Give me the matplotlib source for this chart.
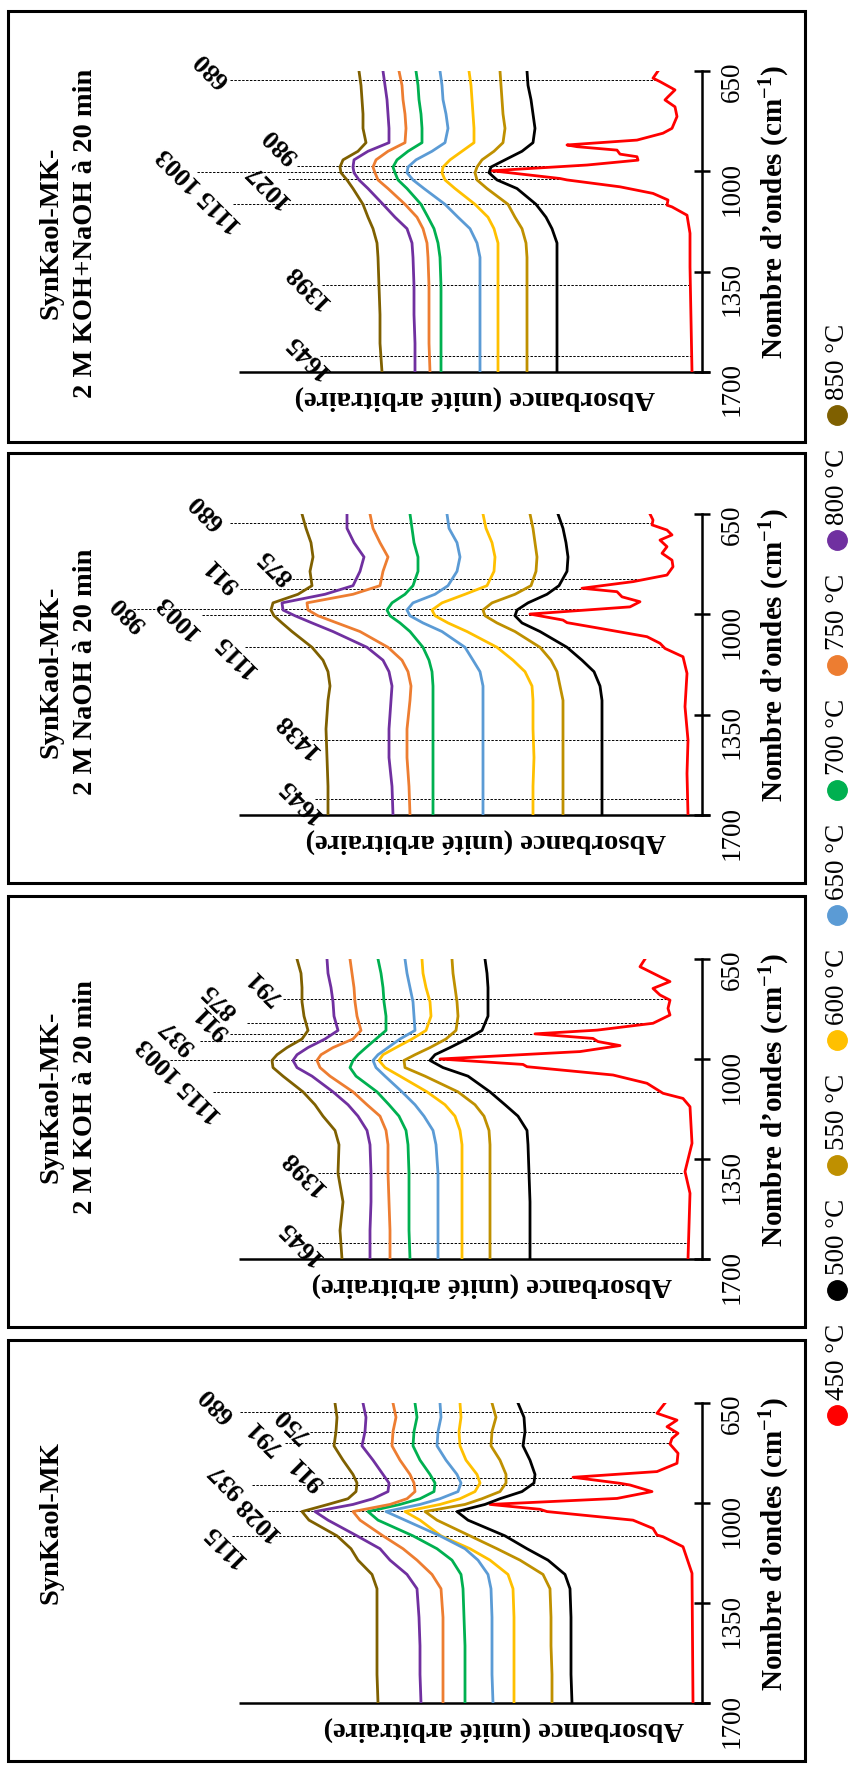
import numpy as np
import matplotlib.pyplot as plt
from matplotlib.patches import Rectangle

plt.rcParams['font.family'] = ['Liberation Serif', 'DejaVu Serif']
plt.rcParams['mathtext.fontset'] = 'custom'
plt.rcParams['mathtext.rm'] = 'Liberation Serif:bold'
plt.rcParams['mathtext.bf'] = 'Liberation Serif:bold'
plt.rcParams['mathtext.default'] = 'rm'

# ---------------- data ----------------
temps = ['450 °C', '500 °C', '550 °C', '600 °C', '650 °C', '700 °C', '750 °C', '800 °C', '850 °C']
colors = ['#FF0000', '#000000', '#BF9000', '#FFC000', '#5B9BD5', '#00B050', '#ED7D31', '#7030A0', '#7F6000']

# common wavenumber grid (cm-1) for the 500-850 °C spectra
wn = [650, 700, 750, 800, 850, 900, 930, 960, 985, 1005, 1030, 1060, 1115, 1160, 1200,
      1250, 1300, 1400, 1500, 1600, 1700]

# SynKaol-MK-2 M KOH+NaOH (absorbance, arbitrary units, stacked)
kn_500 = [175, 174, 171, 169, 167, 169, 180, 197, 211, 213, 205, 185, 166, 156, 150, 145, 145, 145, 145, 145, 145]
kn_550 = [202, 201, 200, 199, 197, 199, 208, 220, 225, 227, 225, 215, 194, 187, 180, 176, 175, 175, 175, 175, 175]
kn_600 = [233, 231, 230, 229, 228, 228, 240, 252, 259, 260, 257, 247, 227, 214, 208, 204, 204, 204, 204, 204, 204]
kn_650 = [262, 260, 259, 256, 254, 257, 270, 286, 294, 295, 289, 278, 257, 244, 232, 225, 222, 222, 222, 222, 222]
kn_700 = [286, 284, 283, 281, 280, 280, 294, 305, 309, 307, 304, 295, 281, 274, 268, 264, 262, 261, 261, 261, 261]
kn_750 = [303, 300, 299, 297, 296, 297, 314, 326, 329, 327, 324, 314, 297, 285, 279, 275, 274, 273, 273, 273, 272]
kn_800 = [319, 317, 315, 314, 313, 313, 334, 348, 349, 348, 343, 334, 319, 307, 295, 290, 289, 288, 288, 287, 287]
kn_850 = [343, 341, 340, 339, 339, 336, 344, 359, 362, 361, 355, 349, 339, 334, 329, 325, 324, 323, 322, 322, 320]
kn_red_wn = [650, 675, 687, 716, 740, 751, 775, 809, 850, 867, 891, 908, 914, 926, 940, 949, 961, 978, 998,
             1025, 1030, 1054, 1077, 1100, 1118, 1124, 1153, 1216, 1333, 1700]
kn_red = [44, 49, 42, 27, 34, 37, 27, 25, 30, 39, 65, 135, 125, 85, 82, 65, 64, 115, 210,
          142, 135, 82, 49, 34, 35, 30, 15, 12, 12, 10]
kn_peaks = [680, 980, 1003, 1027, 1115, 1398, 1645]
kn_labels = ['680', '980', '1027', '1115 1003', '1398', '1645']

# SynKaol-MK-2 M NaOH
na_500 = [144, 139, 136, 134, 135, 143, 155, 174, 185, 187, 180, 162, 135, 120, 108, 102, 100, 100, 100, 100, 100]
na_550 = [172, 169, 167, 165, 166, 171, 187, 210, 219, 217, 205, 187, 162, 151, 145, 142, 139, 139, 139, 139, 139]
na_600 = [219, 216, 210, 207, 208, 215, 237, 260, 270, 267, 254, 235, 205, 189, 177, 170, 169, 169, 168, 169, 169]
na_650 = [255, 253, 245, 242, 245, 254, 267, 289, 295, 292, 279, 260, 237, 229, 222, 219, 219, 219, 219, 219, 219]
na_700 = [292, 290, 288, 284, 284, 289, 297, 310, 315, 312, 302, 292, 279, 273, 270, 269, 269, 269, 269, 269, 269]
na_750 = [332, 329, 322, 314, 319, 322, 349, 395, 394, 384, 365, 342, 314, 300, 294, 291, 292, 295, 295, 293, 292]
na_800 = [355, 355, 348, 338, 342, 349, 377, 420, 419, 407, 390, 369, 335, 319, 313, 310, 311, 313, 313, 310, 309]
na_850 = [400, 396, 391, 389, 392, 390, 404, 429, 431, 428, 420, 410, 390, 379, 374, 372, 374, 376, 375, 374, 374]
na_red_wn = [650, 671, 688, 706, 723, 741, 764, 787, 811, 834, 863, 886, 909, 921, 939, 956, 974, 999, 1020,
             1029, 1049, 1078, 1101, 1119, 1148, 1206, 1322, 1439, 1555, 1700]
na_red = [52, 49, 50, 35, 30, 42, 35, 40, 30, 29, 35, 69, 120, 85, 80, 62, 72, 172, 139,
          135, 102, 55, 42, 37, 19, 15, 17, 14, 15, 14]
na_peaks = [680, 875, 911, 980, 1003, 1115, 1438, 1645]
na_labels = ['680', '875', '911', '980', '1003', '1115', '1438', '1645']

# SynKaol-MK-2 M KOH
ko_500 = [217, 215, 214, 214, 214, 220, 235, 252, 267, 272, 259, 234, 212, 197, 184, 175, 174, 173, 172, 172, 172]
ko_550 = [250, 249, 247, 245, 244, 246, 256, 272, 287, 298, 297, 277, 244, 227, 218, 213, 212, 212, 212, 212, 212]
ko_600 = [280, 279, 276, 272, 271, 276, 290, 306, 319, 323, 317, 302, 275, 257, 247, 242, 240, 240, 240, 240, 240]
ko_650 = [297, 295, 292, 289, 288, 287, 302, 314, 324, 329, 326, 317, 300, 287, 278, 269, 266, 264, 264, 264, 264]
ko_700 = [324, 321, 319, 318, 316, 316, 326, 336, 344, 349, 352, 346, 325, 313, 303, 296, 294, 293, 293, 293, 292]
ko_750 = [352, 350, 348, 347, 345, 341, 349, 369, 381, 385, 382, 372, 349, 335, 322, 316, 314, 314, 313, 312, 312]
ko_800 = [375, 374, 371, 369, 368, 364, 377, 394, 405, 409, 405, 390, 369, 354, 344, 335, 332, 331, 331, 332, 332]
ko_850 = [405, 401, 400, 400, 398, 394, 400, 415, 425, 430, 429, 419, 399, 387, 379, 367, 363, 364, 359, 362, 360]
ko_red_wn = [650, 677, 712, 729, 753, 776, 794, 823, 846, 875, 899, 912, 928, 939, 953, 974, 1000, 1019,
             1027, 1056, 1085, 1109, 1120, 1138, 1167, 1295, 1394, 1470, 1700]
ko_red = [57, 62, 42, 32, 49, 42, 32, 34, 32, 49, 105, 167, 109, 104, 82, 122, 262, 179,
          175, 89, 55, 44, 39, 19, 12, 10, 17, 12, 14]
ko_peaks = [791, 875, 911, 937, 1003, 1115, 1398, 1645]
ko_labels = ['791', '875', '911', '937', '1115 1003', '1398', '1645']

# SynKaol-MK
mk_500 = [184, 178, 177, 179, 172, 167, 168, 180, 202, 217, 245, 234, 197, 175, 154, 137, 132, 131, 131, 131, 130]
mk_550 = [210, 206, 210, 211, 202, 196, 196, 202, 220, 237, 277, 265, 232, 205, 182, 159, 152, 151, 151, 150, 150]
mk_600 = [242, 241, 243, 242, 236, 225, 222, 227, 242, 262, 297, 282, 261, 232, 212, 194, 189, 188, 188, 188, 188]
mk_650 = [262, 261, 264, 265, 256, 245, 241, 244, 262, 282, 316, 297, 262, 237, 224, 214, 211, 210, 210, 210, 209]
mk_700 = [287, 285, 288, 289, 282, 272, 267, 268, 282, 302, 334, 324, 289, 265, 250, 241, 239, 238, 237, 237, 237]
mk_750 = [309, 306, 309, 310, 302, 292, 288, 287, 295, 312, 349, 342, 319, 299, 285, 270, 261, 259, 259, 259, 259]
mk_800 = [339, 336, 337, 340, 329, 319, 313, 314, 329, 349, 387, 374, 345, 322, 312, 295, 285, 283, 282, 282, 281]
mk_850 = [367, 365, 366, 368, 359, 349, 345, 346, 354, 374, 400, 393, 365, 351, 344, 330, 325, 325, 325, 325, 324]
mk_red_wn = [650, 686, 710, 733, 756, 774, 794, 826, 861, 890, 910, 931, 937, 960, 984, 1005, 1022, 1030,
             1060, 1089, 1112, 1118, 1153, 1246, 1700]
mk_red = [37, 45, 25, 35, 24, 30, 32, 24, 25, 45, 129, 82, 72, 50, 85, 212, 162, 155,
          69, 49, 45, 39, 19, 10, 9]
mk_peaks = [680, 750, 791, 911, 937, 1028, 1115]
mk_labels = ['680', '750', '791', '911', '937', '1028', '1115']

# ---------------- layout (pixels of the 851 x 1766 canvas) ----------------
W, H = 851, 1766
AX_LEFT, AX_RIGHT = 100, 702
A_MAX = AX_RIGHT - AX_LEFT        # absorbance range shown
A_AXIS = 463                      # left end of the absorbance axis line

panels = [
    dict(top=11, bottom=442, y650=71, y1700=372,
         title=['SynKaol-MK-', '2 M KOH+NaOH à 20 min'], title_y=233, abs_x=475,
         curves=[kn_500, kn_550, kn_600, kn_650, kn_700, kn_750, kn_800, kn_850],
         red_wn=kn_red_wn, red=kn_red, peaks=kn_peaks,
         starts=[472, 405, 505, 414, 469, 380, 382],
         labels=kn_labels,
         label_pos=[(490, 647), (421, 912), (435, 1048), (502, 1065), (395, 1400), (395, 1645)]),
    dict(top=453, bottom=883, y650=514, y1700=815,
         title=['SynKaol-MK-', '2 M NaOH à 20 min'], title_y=672, abs_x=486,
         curves=[na_500, na_550, na_600, na_650, na_700, na_750, na_800, na_850],
         red_wn=na_red_wn, red=na_red, peaks=na_peaks,
         starts=[472, 410, 462, 569, 500, 457, 390, 387],
         labels=na_labels,
         label_pos=[(495, 643), (426, 835), (480, 863), (573, 996), (525, 1006), (467, 1142),
                    (405, 1421), (402, 1648)]),
    dict(top=896, bottom=1327, y650=959, y1700=1259,
         title=['SynKaol-MK-', '2 M KOH à 20 min'], title_y=1097, abs_x=492,
         curves=[ko_500, ko_550, ko_600, ko_650, ko_700, ko_750, ko_800, ko_850],
         red_wn=ko_red_wn, red=ko_red, peaks=ko_peaks,
         starts=[419, 455, 472, 502, 532, 489, 384, 384],
         labels=ko_labels,
         label_pos=[(438, 748), (482, 794), (490, 870), (524, 923), (522, 1074), (399, 1396),
                    (402, 1641)]),
    dict(top=1340, bottom=1761, y650=1403, y1700=1703,
         title=['SynKaol-MK'], title_y=1522, abs_x=504,
         curves=[mk_500, mk_550, mk_600, mk_650, mk_700, mk_750, mk_800, mk_850],
         red_wn=mk_red_wn, red=mk_red, peaks=mk_peaks,
         starts=[462, 392, 417, 374, 450, 434, 470],
         labels=mk_labels,
         label_pos=[(485, 657), (410, 727), (438, 769), (395, 895), (475, 923), (445, 1053),
                    (478, 1147)]),
]

fig = plt.figure(figsize=(W / 100, H / 100), dpi=100)
fig.patch.set_facecolor('white')

ov = fig.add_axes([0, 0, 1, 1])
ov.set_xlim(0, W)
ov.set_ylim(H, 0)
ov.axis('off')

for p in panels:
    # panel frame
    ov.add_patch(Rectangle((8, p['top']), 797, p['bottom'] - p['top'], fill=False, lw=2.2, ec='black'))

    # titles
    if len(p['title']) == 2:
        ov.text(51, p['title_y'], p['title'][0], rotation=90, ha='center', va='center',
                fontsize=20.5, fontweight='bold')
        ov.text(86, p['title_y'], p['title'][1], rotation=90, ha='center', va='center',
                fontsize=20.5, fontweight='bold')
    else:
        ov.text(51, p['title_y'], p['title'][0], rotation=90, ha='center', va='center',
                fontsize=20.5, fontweight='bold')

    ov.text(p['abs_x'], p['y1700'] + 25, 'Absorbance (unité arbitraire)', rotation=180,
            ha='center', va='center', fontsize=20.5, fontweight='bold')
    ov.text(775, (p['y650'] + p['y1700']) / 2 - 9, 'Nombre d’ondes (cm$^{-1}$)', rotation=90,
            ha='center', va='center', fontsize=21, fontweight='bold')

    ax = fig.add_axes([AX_LEFT / W, 1 - p['y1700'] / H, (AX_RIGHT - AX_LEFT) / W,
                       (p['y1700'] - p['y650']) / H])
    ax.set_xlim(A_MAX, 0)
    ax.set_ylim(1700, 650)
    ax.patch.set_visible(False)
    for s in ['top', 'left', 'bottom']:
        ax.spines[s].set_visible(False)
    ax.spines['right'].set_linewidth(1.8)
    ax.yaxis.tick_right()
    ax.set_yticks([650, 1000, 1350, 1700])
    ax.tick_params(axis='y', direction='inout', length=12, width=1.8, pad=7,
                   labelsize=19.5, labelrotation=90)
    ax.set_xticks([])
    ax.plot([A_AXIS, -8], [1700, 1700], color='black', lw=1.8, clip_on=False,
            solid_capstyle='butt')

    # dashed guide lines from label to the 450 °C spectrum
    for w0, a0 in zip(p['peaks'], p['starts']):
        a1 = np.interp(w0, p['red_wn'], p['red'])
        ax.plot([a0, a1], [w0, w0], color='black', lw=0.7, ls=(0, (2.5, 1.5)), zorder=1,
                clip_on=False)

    for txt, (a, w) in zip(p['labels'], p['label_pos']):
        ax.text(a, w, txt, rotation=135, rotation_mode='anchor', ha='center', va='center',
                fontsize=19, fontweight='bold', clip_on=False)

    # spectra
    ax.plot(p['red'], p['red_wn'], color=colors[0], lw=2.0, zorder=3)
    for vals, col in zip(p['curves'], colors[1:]):
        ax.plot(vals, wn, color=col, lw=2.0, zorder=3)

# legend (vertical, rotated)
for k, (lab, col) in enumerate(zip(temps[::-1], colors[::-1])):
    y = 415 + 125 * k
    ov.plot(837, y, 'o', ms=14, color=col, clip_on=False)
    ov.text(837, y - 15, lab, rotation=90, ha='center', va='bottom', fontsize=19.5)

fig.savefig('out.png', dpi=100)
